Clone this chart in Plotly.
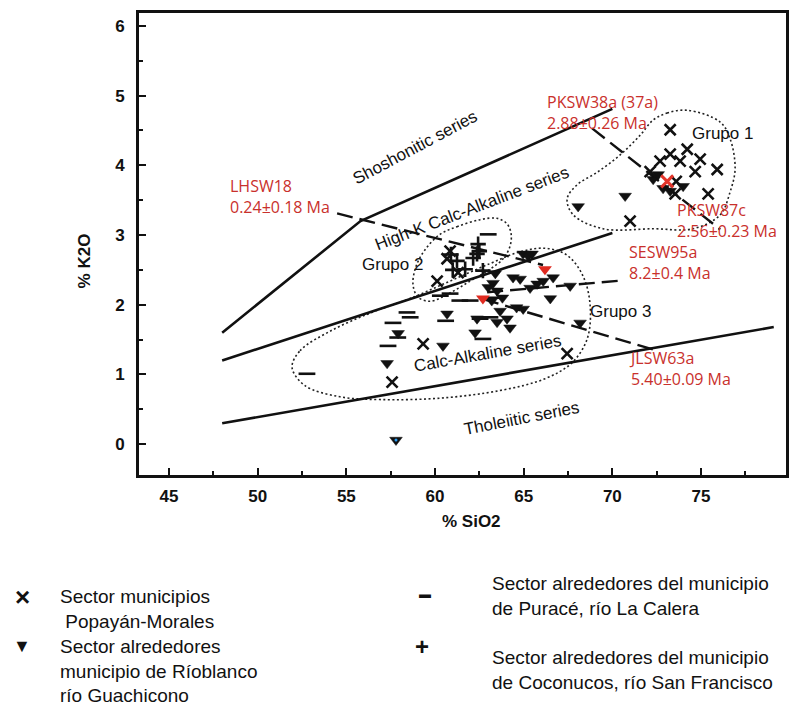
import plotly.graph_objects as go

# ---- samples: Sector municipios Popayán-Morales (x) ----
pm_sio2 = [73.26, 73.26, 74.22, 74.95, 75.91, 74.67, 73.82, 72.69, 75.40, 73.54, 71.00, 72.13, 73.60,
           60.85, 60.68, 60.12, 61.30, 59.33, 67.45, 57.58]
pm_k2o = [4.51, 4.16, 4.23, 4.09, 3.94, 3.91, 4.06, 4.06, 3.59, 3.59, 3.20, 3.91, 3.77,
          2.77, 2.66, 2.34, 2.46, 1.44, 1.30, 0.89]

# ---- samples: Sector alrededores municipio de Ríoblanco (triangles) ----
rb_sio2 = [68.07, 70.72, 72.30, 72.86, 73.99, 72.58, 73.26,
           64.97, 65.25, 65.47, 64.40, 64.80, 65.36, 65.76, 66.10, 66.66, 67.62, 66.50,
           63.27, 63.50, 63.20, 63.67, 64.06, 64.23, 64.60, 64.97, 60.68, 62.37, 62.26,
           60.45, 57.92, 57.30, 68.18, 63.40, 63.00, 63.80, 63.50]
rb_k2o = [3.41, 3.56, 3.80, 3.67, 3.70, 3.87, 3.63,
          2.73, 2.70, 2.73, 2.39, 2.37, 2.24, 2.30, 2.34, 2.39, 2.27, 2.09,
          2.31, 2.20, 2.06, 1.91, 1.80, 1.67, 1.96, 1.94, 1.87, 1.80, 1.60,
          1.41, 1.59, 1.16, 1.74, 2.45, 2.25, 2.10, 1.75]
rb_low_sio2 = [57.8]
rb_low_k2o = [0.06]

# ---- samples: Sector alrededores del municipio de Puracé (dash) ----
pu_sio2 = [63.00, 60.85, 61.40, 61.98, 58.42, 58.60, 57.63, 57.90, 57.35, 60.60,
           62.54, 63.10, 63.27, 62.70, 52.78, 60.30]
pu_k2o = [3.01, 2.16, 2.06, 2.06, 1.89, 1.82, 1.74, 1.53, 1.41, 1.77,
          1.80, 1.82, 2.10, 1.51, 1.01, 2.13]

# ---- samples: Sector alrededores del municipio de Coconucos (plus) ----
co_sio2 = [62.43, 62.50, 62.15, 61.24, 61.70, 62.70, 62.37, 61.00, 60.90]
co_k2o = [2.87, 2.77, 2.67, 2.63, 2.51, 2.49, 2.73, 2.50, 2.72]

# ---- dated samples (highlighted in red) ----
dated_x_sio2 = [73.09]
dated_x_k2o = [3.77]
dated_tri_sio2 = [66.20, 62.70]
dated_tri_k2o = [2.51, 2.09]

# ---- series boundaries (SiO2, K2O) ----
tho_ca_sio2 = [48, 79.1]
tho_ca_k2o = [0.3, 1.68]
ca_hk_sio2 = [48, 70]
ca_hk_k2o = [1.2, 3.03]
hk_sho_sio2 = [48, 55.8, 70]
hk_sho_k2o = [1.6, 3.2, 4.81]

# ---- leader lines from the age labels ----
pksw_sio2 = [68.86, 76.08]
pksw_k2o = [4.53, 3.08]
lhsw_sio2 = [54.48, 66.09]
lhsw_k2o = [3.31, 2.57]
sesw_sio2 = [62.94, 70.66]
sesw_k2o = [2.18, 2.35]
jlsw_sio2 = [62.71, 72.41]
jlsw_k2o = [2.08, 1.35]

# ---- group outlines ----
g1_sio2 = [72.30, 73.09, 74.22, 76.08, 76.64, 76.92, 76.64, 76.08, 74.55, 72.30, 69.48,
           67.79, 67.45, 68.01, 69.14, 70.44, 71.56]
g1_k2o = [4.65, 4.75, 4.79, 4.62, 4.38, 3.95, 3.62, 3.29, 3.09, 3.09, 3.09,
          3.29, 3.52, 3.72, 3.90, 4.15, 4.43]
g2_sio2 = [60.28, 61.24, 62.54, 63.50, 64.06, 64.29, 64.23, 63.84, 63.10, 61.98, 60.85,
           59.72, 59.04, 58.76, 58.93, 59.44]
g2_k2o = [3.01, 3.12, 3.22, 3.24, 3.16, 3.02, 2.84, 2.66, 2.51, 2.34, 2.17,
          2.05, 2.11, 2.29, 2.55, 2.79]
g3_sio2 = [51.94, 52.39, 54.08, 56.34, 58.59, 60.85, 63.10, 64.80, 66.21, 67.45, 68.35,
           68.75, 68.58, 67.73, 66.21, 63.67, 60.28, 56.90, 54.64, 52.67]
g3_k2o = [1.10, 1.34, 1.62, 1.88, 2.09, 2.34, 2.59, 2.76, 2.81, 2.71, 2.41,
          1.98, 1.51, 1.17, 0.94, 0.77, 0.66, 0.64, 0.68, 0.84]

x_ticks = [45, 50, 55, 60, 65, 70, 75]
y_ticks = [0, 1, 2, 3, 4, 5, 6]

BLACK = "#111111"
RED = "#c9302c"
FONT = "Liberation Sans"

W, H = 811, 709
L, R, T, B = 139, 786, 10, 475


def paper_xy(px, py):
    """Figure pixel position -> paper fraction of the plotting area."""
    return (px - L) / (R - L), (B - py) / (B - T)


fig = go.Figure()


def closed(xs, ys):
    return xs + xs[:1], ys + ys[:1]


# group outlines
for gx, gy in [(g1_sio2, g1_k2o), (g2_sio2, g2_k2o), (g3_sio2, g3_k2o)]:
    cx, cy = closed(gx, gy)
    fig.add_trace(go.Scatter(x=cx, y=cy, mode="lines", line_shape="spline",
                             line=dict(color="#222222", width=1.6, dash="2px,2.5px"),
                             hoverinfo="skip", showlegend=False))

# series boundaries
for bx, by in [(tho_ca_sio2, tho_ca_k2o), (ca_hk_sio2, ca_hk_k2o), (hk_sho_sio2, hk_sho_k2o)]:
    fig.add_trace(go.Scatter(x=bx, y=by, mode="lines",
                             line=dict(color=BLACK, width=2.6),
                             hoverinfo="skip", showlegend=False))

# leader lines
for lx, ly in [(pksw_sio2, pksw_k2o), (lhsw_sio2, lhsw_k2o), (sesw_sio2, sesw_k2o), (jlsw_sio2, jlsw_k2o)]:
    fig.add_trace(go.Scatter(x=lx, y=ly, mode="lines",
                             line=dict(color=BLACK, width=2.4, dash="16px,7px"),
                             hoverinfo="skip", showlegend=False))

# sample markers
fig.add_trace(go.Scatter(x=pu_sio2, y=pu_k2o, mode="markers", name="Puracé",
                         marker=dict(symbol="line-ew-open", size=12, color=BLACK,
                                     line=dict(color=BLACK, width=2.6)), showlegend=False))
fig.add_trace(go.Scatter(x=co_sio2, y=co_k2o, mode="markers", name="Coconucos",
                         marker=dict(symbol="cross-thin-open", size=11, color=BLACK,
                                     line=dict(color=BLACK, width=2.6)), showlegend=False))
fig.add_trace(go.Scatter(x=rb_sio2 + rb_low_sio2, y=rb_k2o + rb_low_k2o, mode="markers", name="Ríoblanco",
                         marker=dict(symbol="triangle-down", size=11, color=BLACK,
                                     line=dict(color=BLACK, width=0.5)), showlegend=False))
fig.add_trace(go.Scatter(x=rb_low_sio2, y=rb_low_k2o, mode="markers",
                         marker=dict(symbol="circle", size=3, color="#2a9df4"),
                         hoverinfo="skip", showlegend=False))
fig.add_trace(go.Scatter(x=pm_sio2, y=pm_k2o, mode="markers", name="Popayán-Morales",
                         marker=dict(symbol="x-thin-open", size=11, color=BLACK,
                                     line=dict(color=BLACK, width=2.6)), showlegend=False))
fig.add_trace(go.Scatter(x=dated_tri_sio2, y=dated_tri_k2o, mode="markers",
                         marker=dict(symbol="triangle-down", size=12, color="#e02a20"),
                         showlegend=False))
fig.add_trace(go.Scatter(x=dated_x_sio2, y=dated_x_k2o, mode="markers",
                         marker=dict(symbol="x-thin-open", size=12, color="#e3352b",
                                     line=dict(color="#e3352b", width=3)), showlegend=False))

annotations = []

# age labels
age_labels = [
    ("PKSW38a (37a)<br>2.88±0.26 Ma", 66.21, 4.76),
    ("LHSW18<br>0.24±0.18 Ma", 48.33, 3.55),
    ("PKSW87c<br>2.56±0.23 Ma", 73.54, 3.21),
    ("SESW95a<br>8.2±0.4 Ma", 70.83, 2.61),
    ("JLSW63a<br>5.40±0.09 Ma", 70.83, 1.08),
]
for text, ax, ay in age_labels:
    annotations.append(dict(text=text, x=ax, y=ay, xref="x", yref="y", showarrow=False,
                            xanchor="left", yanchor="middle", align="left",
                            font=dict(family="Open Sans", size=16, color=RED)))

# group names
for text, ax, ay in [("Grupo 1", 76.19, 4.45), ("Grupo 2", 57.58, 2.58), ("Grupo 3", 70.44, 1.91)]:
    annotations.append(dict(text=text, x=ax, y=ay, xref="x", yref="y", showarrow=False,
                            xanchor="center", yanchor="middle",
                            font=dict(family=FONT, size=17, color=BLACK)))

# series names
for text, ax, ay, ang in [("Shoshonitic series", 58.87, 4.26, -28),
                          ("High-K Calc-Alkaline series", 62.09, 3.38, -21),
                          ("Calc-Alkaline series", 62.94, 1.30, -10),
                          ("Tholeiitic series", 64.85, 0.37, -11)]:
    annotations.append(dict(text=text, x=ax, y=ay, xref="x", yref="y", showarrow=False,
                            xanchor="center", yanchor="middle",
                            textangle=ang, font=dict(family=FONT, size=17, color=BLACK)))

# axis titles
tx, ty = paper_xy(471, 522)
annotations.append(dict(text="<b>% SiO2</b>", x=tx, y=ty, xref="paper", yref="paper",
                        showarrow=False, xanchor="center", yanchor="middle",
                        font=dict(family=FONT, size=17, color=BLACK)))
tx, ty = paper_xy(84, 260)
annotations.append(dict(text="<b>% K2O</b>", x=tx, y=ty, xref="paper", yref="paper",
                        showarrow=False, xanchor="center", yanchor="middle", textangle=-90,
                        font=dict(family=FONT, size=17, color=BLACK)))

# legend
legend_symbols = [("<b>×</b>", 22, 598, 26), ("▼", 22, 647, 18), ("<b>▬</b>", 425, 595, 12), ("<b>+</b>", 422, 648, 24)]
for sym, px_, py_, sz in legend_symbols:
    lx, ly = paper_xy(px_, py_)
    annotations.append(dict(text=sym, x=lx, y=ly, xref="paper", yref="paper", showarrow=False,
                            xanchor="center", yanchor="middle",
                            font=dict(family=FONT, size=sz, color=BLACK)))
legend_texts = [
    ("Sector municipios<br> Popayán-Morales", 58, 585),
    ("Sector alrededores<br>municipio de Ríoblanco<br>río Guachicono", 58, 635),
    ("Sector alrededores del municipio<br>de Puracé, río La Calera", 490, 572),
    ("Sector alrededores del municipio<br>de Coconucos, río San Francisco", 490, 646),
]
for text, px_, py_ in legend_texts:
    lx, ly = paper_xy(px_, py_)
    annotations.append(dict(text=text, x=lx, y=ly, xref="paper", yref="paper", showarrow=False,
                            xanchor="left", yanchor="top", align="left",
                            font=dict(family=FONT, size=19, color=BLACK)))

axis_common = dict(showgrid=False, zeroline=False, showline=True, linewidth=2.6, linecolor=BLACK,
                   mirror=True, ticks="inside", ticklen=7, tickwidth=2, tickcolor=BLACK,
                   tickfont=dict(family=FONT, size=17, color=BLACK, weight="bold"))

fig.update_layout(
    width=W, height=H,
    margin=dict(l=L, r=W - R, t=T, b=H - B),
    paper_bgcolor="white", plot_bgcolor="white",
    xaxis=dict(range=[43.31, 79.79], tickvals=x_ticks, ticklabelstandoff=4,
               minor=dict(dtick=2.5, tick0=45, ticks="inside", ticklen=4, tickwidth=1.5, tickcolor=BLACK),
               **axis_common),
    yaxis=dict(range=[-0.442, 6.185], tickvals=y_ticks, ticklabelstandoff=8,
               minor=dict(dtick=0.5, tick0=0, ticks="inside", ticklen=4, tickwidth=1.5, tickcolor=BLACK),
               **axis_common),
    annotations=annotations,
)

fig.write_html("out.html")
